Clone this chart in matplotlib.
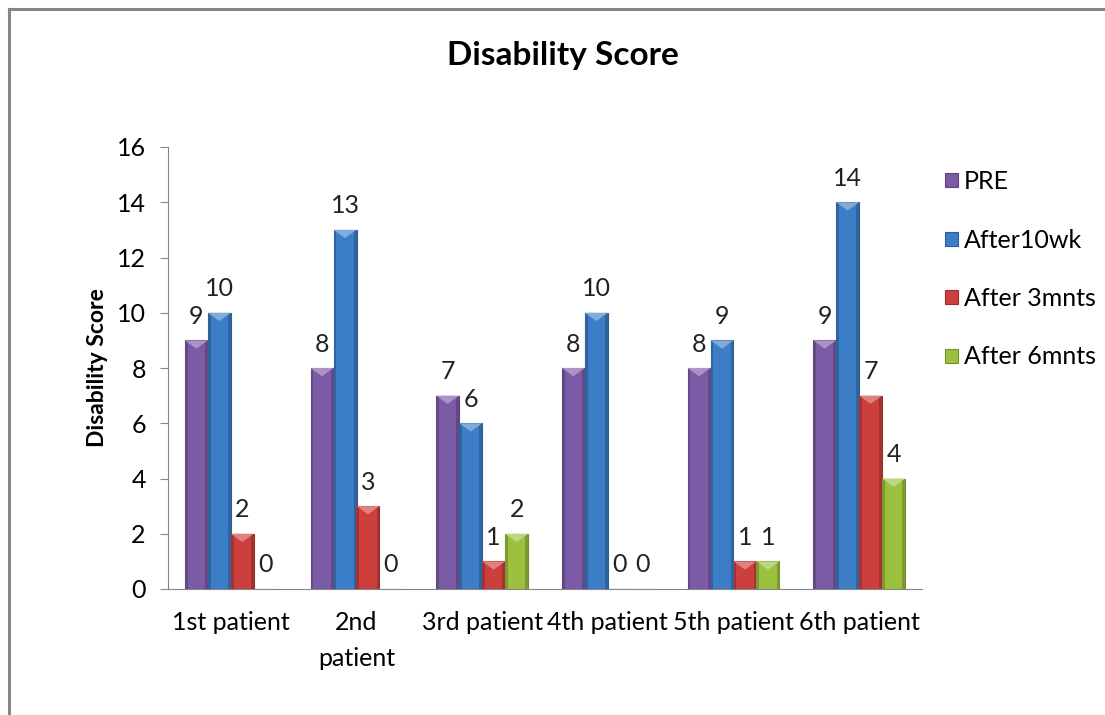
import numpy as np
import matplotlib
matplotlib.use("Agg")
import matplotlib.pyplot as plt
from matplotlib.patches import Polygon, Rectangle
from matplotlib.colors import to_rgb

patients = ["1st patient", "2nd\npatient", "3rd patient", "4th patient", "5th patient", "6th patient"]
series_names = ["PRE", "After10wk", "After 3mnts", "After 6mnts"]
pre = [9, 8, 7, 8, 8, 9]
after10wk = [10, 13, 6, 10, 9, 14]
after3m = [2, 3, 1, 0, 1, 7]
after6m = [0, 0, 2, 0, 1, 4]
colors = ["#7b5ba6", "#3b7dc6", "#cc3f3c", "#9cc13f"]

plt.rcParams["font.family"] = ["Lato", "DejaVu Sans"]

fig = plt.figure(figsize=(11.05, 7.15), dpi=100)
ax = fig.add_axes([168 / 1105, 1 - 589 / 715, (922 - 168) / 1105, (589 - 147) / 715])

# chart frame (top and left edges visible)
fig.add_artist(plt.Line2D([9 / 1105, 9 / 1105], [0, 1 - 9 / 715], transform=fig.transFigure,
                          color="#868686", lw=2.2))
fig.add_artist(plt.Line2D([9 / 1105, 1], [1 - 9 / 715, 1 - 9 / 715], transform=fig.transFigure,
                          color="#868686", lw=2.2))

x = np.arange(len(patients))
w = 0.183


def shade(c, f):
    r, g, b = to_rgb(c)
    if f > 1:
        return tuple(v + (1 - v) * (f - 1) for v in (r, g, b))
    return tuple(v * f for v in (r, g, b))


for i, (vals, col, name) in enumerate(zip([pre, after10wk, after3m, after6m], colors, series_names)):
    xs = x + (i - 1.5) * w
    ax.bar(xs, vals, width=w, color=col, edgecolor=shade(col, 0.75), linewidth=0.8,
           label=name, zorder=2)
    for xi, v in zip(xs, vals):
        if v > 0:
            # darker side strips and a light bevel cap
            ax.add_patch(Rectangle((xi - w / 2, 0), w * 0.12, v, color=shade(col, 0.8), lw=0, zorder=3))
            ax.add_patch(Rectangle((xi + w / 2 - w * 0.12, 0), w * 0.12, v, color=shade(col, 0.8), lw=0, zorder=3))
            cap = min(0.3, v * 0.5)
            ax.add_patch(Polygon([(xi - w / 2, v), (xi + w / 2, v), (xi, v - cap)],
                                 closed=True, color=shade(col, 1.35), lw=0, zorder=4))
        ax.annotate(str(v), (xi, v), xytext=(0, 9), textcoords="offset points",
                    ha="center", va="bottom", fontsize=18, color="#222222")

ax.set_xlim(-0.5, len(patients) - 0.5)
ax.set_ylim(0, 16)
ax.set_yticks(range(0, 17, 2))
ax.set_xticks(x)
ax.set_xticklabels(patients, fontsize=18, linespacing=1.65, va="top")
ax.tick_params(axis="x", length=0, pad=16)
ax.tick_params(axis="y", labelsize=18, length=6, color="#868686", pad=10)
for s in ["top", "right"]:
    ax.spines[s].set_visible(False)
for s in ["left", "bottom"]:
    ax.spines[s].set_color("#868686")
ax.set_ylabel("Disability Score", fontsize=16.5, fontweight="bold", labelpad=6)

fig.text(563 / 1105, 1 - 55 / 715, "Disability Score", ha="center", va="center",
         fontsize=24, fontweight="bold")

leg = ax.legend(loc="upper left", bbox_to_anchor=(945 / 1105, 1 - 170 / 715),
                bbox_transform=fig.transFigure, frameon=False, fontsize=18,
                borderpad=0, borderaxespad=0,
                handlelength=0.5, handleheight=0.5, handletextpad=0.25, labelspacing=1.42)

fig.savefig("out.png", dpi=100, facecolor="white")
